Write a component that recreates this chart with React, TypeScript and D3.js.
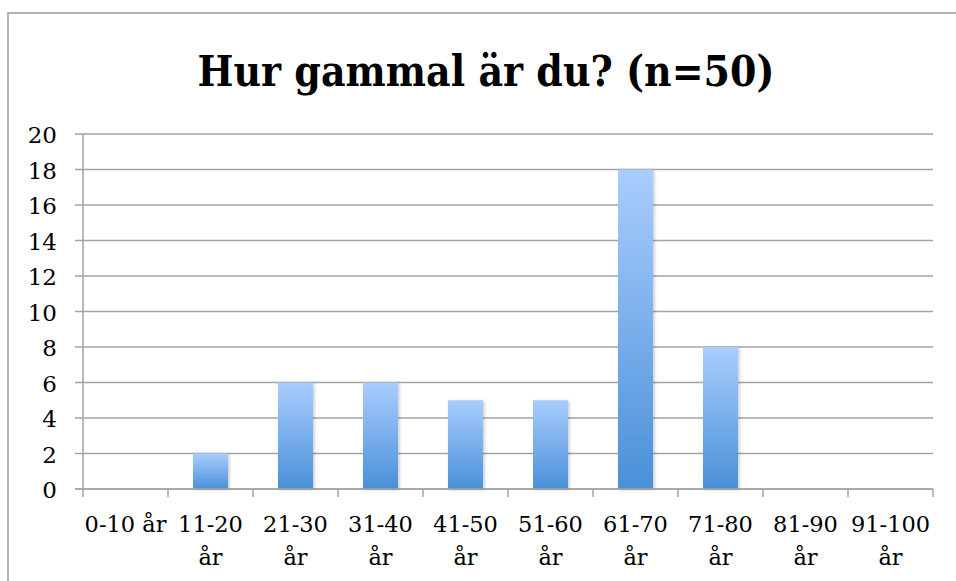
import React, { useRef, useEffect } from "react";
import { select, scaleBand, scaleLinear, range } from "d3";

const categories = [
  "0-10 år",
  "11-20 år",
  "21-30 år",
  "31-40 år",
  "41-50 år",
  "51-60 år",
  "61-70 år",
  "71-80 år",
  "81-90 år",
  "91-100 år",
];
const counts = [0, 2, 6, 6, 5, 5, 18, 8, 0, 0];
const yTicks = [0, 2, 4, 6, 8, 10, 12, 14, 16, 18, 20];
const title = "Hur gammal är du? (n=50)";

const W = 956;
const H = 581;
const font = "'DejaVu Serif', serif";
const gridColor = "#a3a3a3";

function App() {
  const svgRef = useRef(null);

  useEffect(() => {
    const svg = select(svgRef.current);
    svg.selectAll("*").remove();

    const left = 83;
    const right = 933;
    const top = 134;
    const bottom = 489;

    const xScale = scaleBand()
      .domain(categories)
      .range([left, right])
      .paddingInner(0.588)
      .paddingOuter(0.294);
    const yScale = scaleLinear().domain([0, 20]).range([bottom, top]);
    const step = xScale.step();

    const defs = svg.append("defs");
    const grad = defs
      .append("linearGradient")
      .attr("id", "barGrad")
      .attr("x1", 0)
      .attr("y1", 0)
      .attr("x2", 0)
      .attr("y2", 1);
    grad.append("stop").attr("offset", "0%").attr("stop-color", "#a9cdfe");
    grad.append("stop").attr("offset", "100%").attr("stop-color", "#4a90d8");
    defs
      .append("filter")
      .attr("id", "shadow")
      .attr("x", "-20%")
      .attr("y", "-5%")
      .attr("width", "150%")
      .attr("height", "115%")
      .append("feDropShadow")
      .attr("dx", 1.5)
      .attr("dy", 1)
      .attr("stdDeviation", 1.5)
      .attr("flood-color", "#000")
      .attr("flood-opacity", 0.22);

    // frame: only the top and left edges are inside the picture
    svg
      .append("path")
      .attr("d", `M8,${H + 10}V13H${W + 10}`)
      .attr("fill", "none")
      .attr("stroke", "#9a9a9a")
      .attr("stroke-width", 1.5);

    svg
      .append("text")
      .attr("x", 486)
      .attr("y", 86)
      .attr("text-anchor", "middle")
      .attr("font-family", font)
      .attr("font-weight", "bold")
      .attr("font-size", 42)
      .attr("textLength", 577)
      .attr("lengthAdjust", "spacingAndGlyphs")
      .text(title);

    // gridlines + y ticks
    svg
      .selectAll(".grid")
      .data(yTicks)
      .join("line")
      .attr("class", "grid")
      .attr("x1", left - 8)
      .attr("x2", right)
      .attr("y1", (d) => yScale(d))
      .attr("y2", (d) => yScale(d))
      .attr("stroke", gridColor)
      .attr("stroke-width", 1.5);

    svg
      .selectAll(".ylabel")
      .data(yTicks)
      .join("text")
      .attr("class", "ylabel")
      .attr("x", 57)
      .attr("y", (d) => yScale(d) + 9)
      .attr("text-anchor", "end")
      .attr("font-family", font)
      .attr("font-size", 23)
      .text((d) => d);

    // y axis line
    svg
      .append("line")
      .attr("x1", left)
      .attr("x2", left)
      .attr("y1", top)
      .attr("y2", bottom)
      .attr("stroke", gridColor)
      .attr("stroke-width", 1.5);

    // x ticks at category boundaries
    svg
      .selectAll(".xtick")
      .data(range(categories.length + 1))
      .join("line")
      .attr("class", "xtick")
      .attr("x1", (i) => left + i * step)
      .attr("x2", (i) => left + i * step)
      .attr("y1", bottom)
      .attr("y2", bottom + 8)
      .attr("stroke", gridColor)
      .attr("stroke-width", 1.5);

    svg
      .selectAll(".bar")
      .data(categories.map((c, i) => ({ c, v: counts[i] })).filter((d) => d.v > 0))
      .join("rect")
      .attr("class", "bar")
      .attr("x", (d) => xScale(d.c))
      .attr("width", xScale.bandwidth())
      .attr("y", (d) => yScale(d.v))
      .attr("height", (d) => yScale(0) - yScale(d.v))
      .attr("fill", "url(#barGrad)")
      .attr("filter", "url(#shadow)");

    // x axis line drawn over the bar bottoms
    svg
      .append("line")
      .attr("x1", left - 8)
      .attr("x2", right)
      .attr("y1", bottom)
      .attr("y2", bottom)
      .attr("stroke", gridColor)
      .attr("stroke-width", 1.5);

    const labels = svg
      .selectAll(".xlabel")
      .data(categories)
      .join("text")
      .attr("class", "xlabel")
      .attr("text-anchor", "middle")
      .attr("font-family", font)
      .attr("font-size", 22.5);
    labels.each(function (d) {
      const cx = xScale(d) + xScale.bandwidth() / 2;
      const parts = d === "0-10 år" ? [d] : [d.replace(" år", ""), "år"];
      select(this)
        .selectAll("tspan")
        .data(parts)
        .join("tspan")
        .attr("x", cx)
        .attr("y", (p, i) => 532 + i * 33)
        .text((p) => p);
    });
  }, []);

  return (
    <div>
      <svg
        ref={svgRef}
        width={W}
        height={H}
        style={{ position: "absolute", left: 0, top: 0 }}
      ></svg>
    </div>
  );
}

export default App;
